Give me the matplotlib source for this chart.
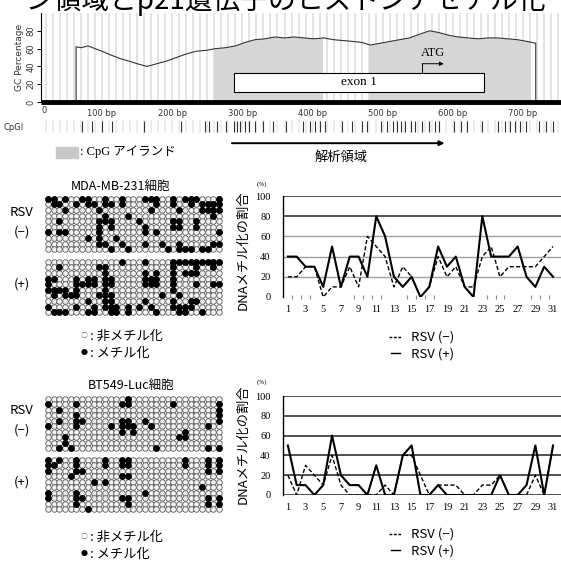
import numpy as np
import matplotlib
matplotlib.use('Agg')
import matplotlib.pyplot as plt
from matplotlib.lines import Line2D
from matplotlib.patches import Rectangle

W, H = 561, 562
JP = ['Noto Sans CJK JP', 'DejaVu Sans']
SERIF = ['Liberation Serif', 'Noto Sans CJK JP']

#%% data
title_text = 'ーン領域とp21遺伝子のヒストンアセチル化'

# GC content profile (bp, %)
gc_bp = [63, 63, 70, 80, 90, 100, 112, 125, 138, 150, 164, 178, 192, 206, 220, 234,
         248, 262, 276, 290, 304, 318, 332, 346, 360, 374, 388, 402, 416, 430, 444,
         458, 470, 482, 496, 510, 524, 538, 552, 567, 580, 594, 608, 622, 636, 650,
         664, 678, 692, 706, 718, 718]
gc_pct = [0, 62, 61, 63, 60, 57, 53, 49, 46, 43, 40, 43, 46, 50, 54, 57,
          58, 60, 61, 63, 67, 70, 71, 73, 72, 73, 72, 71, 72, 70, 69,
          68, 67, 64, 66, 68, 70, 72, 76, 80, 78, 75, 73, 72, 71, 72,
          72, 71, 70, 68, 66, 0]
islands = [(260, 413), (480, 710)]
exon1 = (288, 644)
atg_bp = 556
gc_ticks = [100, 200, 300, 400, 500, 600, 700]
cpg_sites = [72, 86, 100, 114, 160, 212, 246, 252, 264, 276,
             288, 292, 297, 304, 310, 318, 330, 344, 362, 386, 397, 404, 410,
             418, 442, 456, 470, 478, 498, 506, 514, 520, 526, 532, 540, 546,
             556, 566, 574, 580, 602, 612, 620, 642, 664, 674, 681, 688, 695,
             704, 722, 732, 742]
region = (285, 588)

# methylation matrices: methylated clone rows (0-9) for each CpG 1..31
mda_neg = [[0, 6], [0, 1], [1, 4, 6], [0, 2, 6], [], [1], [0], [0, 1, 7], [1],
           [2, 4, 5, 6, 7, 8], [0, 1, 3, 4, 8], [1, 4, 5, 9], [7], [0, 1, 8], [3, 9],
           [], [4], [0, 5, 6, 8], [0, 2], [0, 1, 6], [8], [9], [0, 1, 4, 5],
           [2, 4, 5, 8, 9], [0, 9], [0, 1, 9], [0, 4, 5], [1, 2, 9], [1, 2, 9],
           [1, 2, 3, 8], [0, 1, 2, 6, 8]]
mda_pos = [[3, 4, 5, 8], [3, 5, 6, 9], [1, 5, 9], [5, 6, 9], [6], [3, 4, 5, 6, 8],
           [4], [3, 4, 7, 9], [3, 4, 8, 9], [1, 6], [1, 2, 3, 4, 5, 6, 7, 8],
           [3, 4, 6, 7, 8, 9], [8, 9], [0], [8, 9], [], [8], [0, 2, 3, 4, 7],
           [3, 4, 8], [2, 3, 4, 9], [6], [], [0, 1, 2, 3, 4, 5, 7, 8], [0, 6, 8, 9],
           [0, 2, 8, 9], [0, 2, 7, 8], [0, 1, 2, 4, 7], [0, 9], [0], [0, 1, 4], [0, 4]]
bt_neg = [[1, 5], [], [2, 4, 9], [7, 8], [9], [1, 3, 4, 5], [4], [], [], [], [],
          [5], [], [1, 4, 5, 6], [0, 1, 4, 5], [5, 6], [], [4], [5], [9], [], [],
          [1], [7], [6, 7], [], [], [], [5, 9], [], [1, 2, 3, 4, 9]]
bt_pos = [[0, 1, 2, 6, 7], [1], [0], [], [3], [0, 1, 2, 6, 7, 8], [2, 7], [9], [4],
          [], [0, 1, 4], [], [], [0, 1, 3, 7], [0, 1, 3, 7, 8], [], [], [6], [], [],
          [], [], [], [], [0, 1], [], [], [5], [0, 1, 2, 7, 8], [], [0, 1, 2, 7, 8]]

# methylation ratio (%) per CpG site
cpg_no = list(range(1, 32))
mda_rsv_neg = [20, 20, 30, 30, 0, 10, 10, 30, 10, 60, 50, 40, 10, 30, 20, 0,
               10, 40, 20, 30, 10, 10, 40, 50, 20, 30, 30, 30, 30, 40, 50]
mda_rsv_pos = [40, 40, 30, 30, 10, 50, 10, 40, 40, 20, 80, 60, 20, 10, 20, 0,
               10, 50, 30, 40, 10, 0, 80, 40, 40, 40, 50, 20, 10, 30, 20]
bt_rsv_neg = [20, 0, 30, 20, 10, 40, 10, 0, 0, 0, 0, 10, 0, 40, 40, 20,
              0, 10, 10, 10, 0, 0, 10, 10, 20, 0, 0, 0, 20, 0, 50]
bt_rsv_pos = [50, 10, 10, 0, 10, 60, 20, 10, 10, 0, 30, 0, 0, 40, 50, 0,
              0, 10, 0, 0, 0, 0, 0, 0, 20, 0, 0, 10, 50, 0, 50]
x_labels = list(range(1, 32, 2))
y_labels = [0, 20, 40, 60, 80, 100]
mda_tickmarks = [1.5, 2.5, 3.5, 8.5, 9.5, 10.5, 11.5, 14.5, 15.5, 16.5, 17.5,
                 23.5, 24.5, 25.5, 28.5, 29.5, 30.5]

#%% helpers
fig = plt.figure(figsize=(W / 100, H / 100), dpi=100)


def px_axes(l, t, r, b):
    return fig.add_axes([l / W, 1 - b / H, (r - l) / W, (b - t) / H])


def ftext(x, y, s, **kw):
    kw.setdefault('ha', 'left')
    kw.setdefault('va', 'center')
    return fig.text(x / W, 1 - y / H, s, **kw)


def fline(x0, x1, y, **kw):
    fig.add_artist(Line2D([x0 / W, x1 / W], [1 - y / H, 1 - y / H], **kw))


#%% title (clipped at top, as in the source page)
ftext(-2, 1, title_text, fontsize=20, family=JP)

#%% GC panel
ax = px_axes(41, 13, 561, 102)
ax.set_xlim(13, 754)
ax.set_ylim(0, 100)
for s in ['top', 'right', 'bottom']:
    ax.spines[s].set_visible(False)
ax.spines['left'].set_linewidth(0.8)
ax.vlines(np.arange(20, 760, 10), 0, 100, color='#e2e2e2', lw=1.3, zorder=0)
for a, b in islands:
    poly = ax.fill_between(gc_bp, 0, gc_pct, color='#d6d6d6', lw=0, zorder=1)
    clip = Rectangle((a, 0), b - a, 100, transform=ax.transData)
    poly.set_clip_path(clip)
ax.plot(gc_bp, gc_pct, color='#333333', lw=0.8, zorder=2)
ax.plot([13, 754], [0, 0], color='black', lw=3.5, clip_on=False, zorder=4,
        solid_capstyle='butt')
ax.add_patch(Rectangle((exon1[0], 11), exon1[1] - exon1[0], 21.5,
                       facecolor='white', edgecolor='black', lw=0.8, zorder=3))
ax.text(sum(exon1) / 2, 22, 'exon 1', ha='center', va='center', fontsize=9.5,
        family=SERIF, zorder=5)
ax.plot([atg_bp, atg_bp], [32.5, 43], color='black', lw=0.7, zorder=3)
ax.annotate('', xy=(atg_bp + 31, 43), xytext=(atg_bp, 43),
            arrowprops=dict(arrowstyle='-|>', lw=0.7, color='black',
                            mutation_scale=6, shrinkA=0, shrinkB=0))
ax.text(atg_bp + 16, 55, 'ATG', ha='center', va='center', fontsize=9,
        family=SERIF)
ax.set_yticks([0, 20, 40, 60, 80])
ax.set_yticklabels(['0', '20', '40', '60', '80'], rotation=90, va='center',
                   fontsize=6, color='#333333')
ax.tick_params(axis='y', length=3, width=0.7, pad=1)
ax.set_ylabel('GC Percentage', fontsize=6.5, labelpad=2, color='#333333')
ax.set_xticks(gc_ticks)
ax.set_xticklabels([f'{t} bp' for t in gc_ticks], fontsize=6, color='#333333')
ax.tick_params(axis='x', length=0, pad=5)
ax.text(14, -9, '0', ha='left', va='center', fontsize=6, color='#333333')

# CpG sites
axc = px_axes(41, 120, 561, 133)
axc.set_xlim(13, 754)
axc.set_ylim(0, 1)
axc.axis('off')
axc.vlines(np.arange(20, 760, 10), 0, 1, color='#ececec', lw=1.3, zorder=0)
axc.vlines(cpg_sites, 0.1, 0.9, color='#333333', lw=0.8)
ftext(3, 127, 'CpGI', fontsize=6, color='#333333')

# analysed region
axr = px_axes(41, 136, 561, 166)
axr.set_xlim(13, 754)
axr.set_ylim(0, 1)
axr.axis('off')
axr.annotate('', xy=(region[1], 0.76), xytext=(region[0], 0.76),
             arrowprops=dict(arrowstyle='-|>', lw=1.4, color='black',
                             mutation_scale=7, shrinkA=0, shrinkB=0))
axr.text(440, 0.27, '解析領域', ha='center', va='center', fontsize=9.5,
         family=JP)

fig.add_artist(Rectangle((56 / W, 1 - 158 / H), 22 / W, 11 / H,
                         color='#c8c8c8', transform=fig.transFigure))
ftext(80, 152, ': CpG アイランド', fontsize=9, family=SERIF)


#%% methylation dot matrices
def dot_matrix(box, cols):
    axm = px_axes(*box)
    axm.set_xlim(-0.5, 30.5)
    axm.set_ylim(9.5, -0.5)
    axm.axis('off')
    xs, ys = np.meshgrid(np.arange(31), np.arange(10))
    axm.scatter(xs.ravel(), ys.ravel(), s=16, facecolor='#f4f4f4',
                edgecolor='#5a5a5a', lw=0.6)
    mx = [j for j, rows in enumerate(cols) for _ in rows]
    my = [r for rows in cols for r in rows]
    axm.scatter(mx, my, s=24, color='black', lw=0)


def side_labels(y0):
    ftext(22, y0, 'RSV', fontsize=9.5, family=JP, ha='center')
    ftext(22, y0 + 19, '(−)', fontsize=9.5, family=JP, ha='center')
    ftext(22, y0 + 71, '(+)', fontsize=9.5, family=JP, ha='center')


def dot_legend(y0):
    ftext(84, y0, '○', fontsize=5, family=JP, color='#666666', ha='center')
    ftext(90, y0, ': 非メチル化', fontsize=9.5, family=JP)
    ftext(84, y0 + 17, '●', fontsize=5, family=JP, ha='center')
    ftext(90, y0 + 17, ': メチル化', fontsize=9.5, family=JP)


ftext(121, 187, 'MDA-MB-231細胞', fontsize=9, family=JP, ha='center')
dot_matrix((45, 196, 222, 252), mda_neg)
dot_matrix((45, 259, 222, 315), mda_pos)
side_labels(213)
dot_legend(336)

ftext(131, 386, 'BT549-Luc細胞', fontsize=9, family=JP, ha='center')
dot_matrix((45, 396, 222, 451), bt_neg)
dot_matrix((45, 457, 222, 512), bt_pos)
side_labels(411)
dot_legend(537)


#%% methylation ratio line charts
def line_chart(box, neg, pos, dark_all, marks=None):
    axl = px_axes(*box)
    axl.set_xlim(0.45, 31.9)
    axl.set_ylim(0, 100)
    for s in ['top', 'right', 'bottom']:
        axl.spines[s].set_visible(False)
    axl.spines['left'].set_linewidth(1.0)
    for v in y_labels:
        if dark_all or v >= 80:
            axl.axhline(v, color='#222222', lw=1.1, zorder=1)
        elif v > 0:
            axl.axhline(v, color='#a0a0a0', lw=1.0, zorder=1)
    if marks:
        axl.vlines(marks, -2, 2, color='#888888', lw=0.8, clip_on=False)
    axl.plot(cpg_no, neg, color='black', lw=1.0, ls=(0, (3, 1.6)), zorder=3)
    axl.plot(cpg_no, pos, color='black', lw=1.5, zorder=3)
    axl.set_yticks(y_labels)
    axl.set_yticklabels([str(v) for v in y_labels], fontsize=7.5, family=SERIF)
    axl.set_xticks(x_labels)
    axl.set_xticklabels([str(v) for v in x_labels], fontsize=7.5, family=SERIF)
    axl.tick_params(axis='y', length=0, pad=9)
    axl.tick_params(axis='x', length=0, pad=6)
    return axl


def chart_texts(y_top, y_mid, y_leg):
    ftext(257, y_top, '(%)', fontsize=5, family=SERIF)
    ftext(243, y_mid, 'DNAメチル化の割合', fontsize=9.5, family=JP,
          rotation=90, ha='center')
    fline(389, 402, y_leg, color='black', lw=1.0, ls=(0, (2, 1.2)))
    ftext(411, y_leg, 'RSV (−)', fontsize=9.5, family=JP)
    fline(391, 400, y_leg + 16, color='black', lw=1.0)
    ftext(411, y_leg + 17, 'RSV (+)', fontsize=9.5, family=JP)


line_chart((283, 196, 561, 297), mda_rsv_neg, mda_rsv_pos, False, mda_tickmarks)
chart_texts(184, 250, 337)
line_chart((283, 396, 561, 495), bt_rsv_neg, bt_rsv_pos, True)
chart_texts(382, 444, 534)

fig.savefig('out.png', dpi=100)
